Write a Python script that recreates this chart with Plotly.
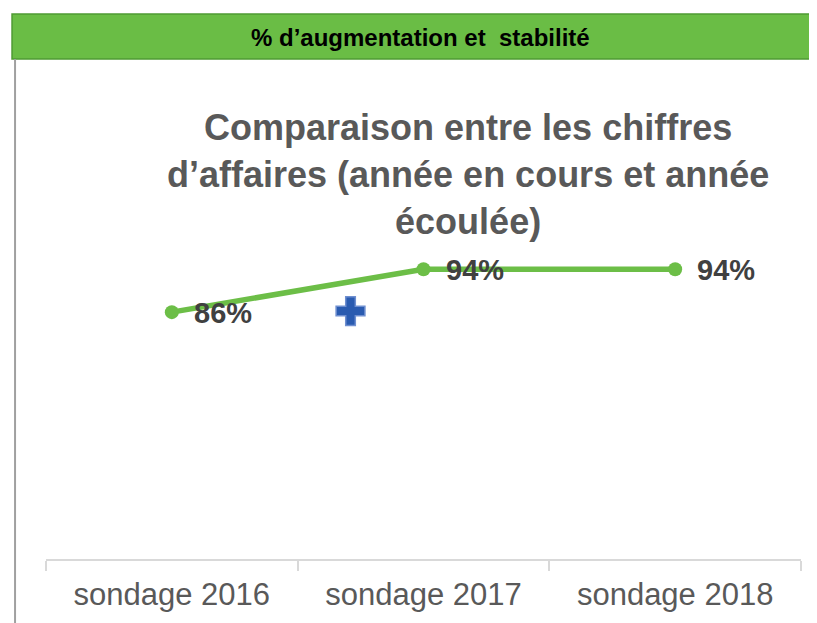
import plotly.graph_objects as go

categories = ["sondage 2016", "sondage 2017", "sondage 2018"]
values = [86, 94, 94]
label_texts = ["86%", "94%", "94%"]
extra_x = [0.71]
extra_y = [86.2]

FONT = "Liberation Sans, Arial, sans-serif"
GREEN = "#6CBE47"
x_pos = list(range(len(categories)))

fig = go.Figure()
fig.add_trace(go.Scatter(
    x=x_pos, y=values, mode="lines+markers",
    line=dict(color=GREEN, width=5.5),
    marker=dict(color=GREEN, size=14),
    hoverinfo="skip", showlegend=False,
))
fig.add_trace(go.Scatter(
    x=extra_x, y=extra_y, mode="markers",
    marker=dict(symbol="cross", size=24, color="#2A5BB0",
                line=dict(color="#6F8FD0", width=1.5)),
    hoverinfo="skip", showlegend=False,
))

for xv, yv, t in zip(x_pos, values, label_texts):
    fig.add_annotation(x=xv, y=yv, text="<b>%s</b>" % t, showarrow=False,
                       xanchor="left", yanchor="middle", xshift=20, yshift=-1,
                       font=dict(family=FONT, size=29, color="#404040"))

# header bar
fig.add_shape(type="rect", xref="paper", yref="paper",
              x0=-0.045, x1=1.05, y0=1.5528, y1=1.6925,
              fillcolor="#6ABD45", line=dict(color="#4F9A33", width=1.5),
              layer="above")
fig.add_annotation(xref="paper", yref="paper", x=0.4954, y=1.621,
                   text="<b>% d’augmentation et  stabilité</b>", showarrow=False,
                   xanchor="center", yanchor="middle",
                   font=dict(family=FONT, size=24, color="#000000"))
# left border line
fig.add_shape(type="line", xref="paper", yref="paper",
              x0=-0.041, x1=-0.041, y0=1.5528, y1=-0.3,
              line=dict(color="#A0A0A0", width=2))

# chart title
fig.add_annotation(xref="paper", yref="paper", x=(468 - 46) / 755, y=(557 - 172) / 322,
                   text="<b>Comparaison entre les chiffres<br>d’affaires (année en cours et année<br>écoulée)</b>",
                   showarrow=False, xanchor="center", yanchor="middle", align="center",
                   font=dict(family=FONT, size=36, color="#595959"))

fig.update_layout(
    width=817, height=623,
    margin=dict(l=38, r=24, t=229, b=72),
    paper_bgcolor="white", plot_bgcolor="white",
    xaxis=dict(
        range=[-0.5, 2.5], tickmode="array", tickvals=x_pos, ticktext=categories,
        showline=True, linecolor="#D9D9D9", linewidth=1.5,
        ticks="outside", ticklen=0, ticklabelstandoff=7,
        showgrid=False, zeroline=False,
        tickfont=dict(family=FONT, size=31, color="#595959"),
        minor=dict(tickmode="array", tickvals=[-0.5, 0.5, 1.5, 2.5],
                   ticks="outside", ticklen=10, tickcolor="#D9D9D9", tickwidth=1.5,
                   showgrid=False),
    ),
    yaxis=dict(range=[40, 100], visible=False, showgrid=False, zeroline=False),
)

fig.write_html("out.html")
